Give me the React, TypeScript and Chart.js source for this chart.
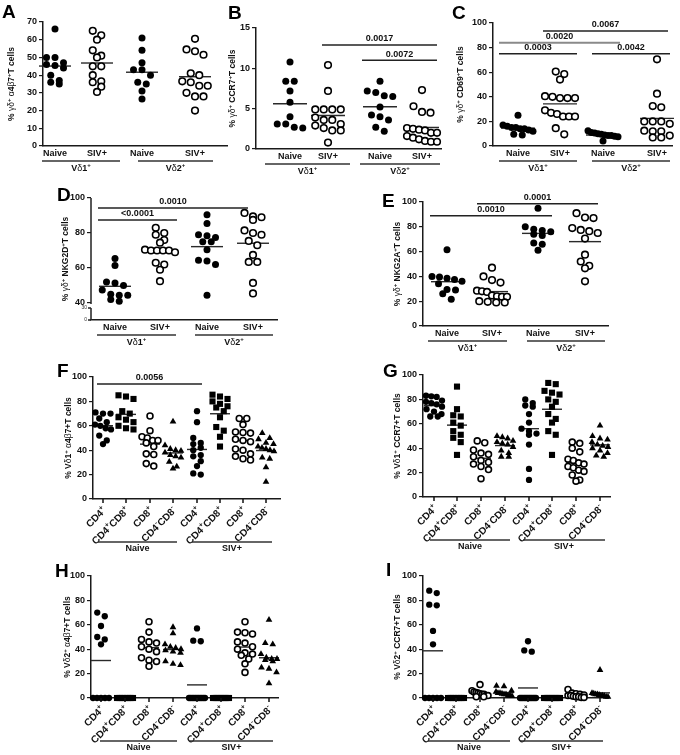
import React, { useEffect, useRef } from 'react';
import { Chart, registerables } from 'chart.js';
Chart.register(...registerables);

const FONT = '"Liberation Sans", Arial, Helvetica, sans-serif';

// ---------------- DATA ----------------
const catsTop = ['Naive', 'SIV+', 'Naive', 'SIV+'];
const groupsTop = ['Vδ1^+', 'Vδ2^+'];
const catsSub = ['CD4^+', 'CD4^+CD8^+', 'CD8^+', 'CD4^-CD8^-', 'CD4^+', 'CD4^+CD8^+', 'CD8^+', 'CD4^-CD8^-'];
const groupsSub = ['Naive', 'SIV+'];

const ticks70 = [0, 10, 20, 30, 40, 50, 60, 70];
const ticks15 = [0, 5, 10, 15];
const ticks100 = [0, 20, 40, 60, 80, 100];
const ticksD = [40, 60, 80, 100];

// A: % γδ+ α4β7+
const A_naive_d1 = [66, 50, 50, 47, 46, 45.5, 44, 40, 37, 36, 35];
const A_siv_d1 = [65, 62.5, 60, 54, 51, 50, 45, 45, 40, 36.5, 36, 33.5, 30.5];
const A_naive_d2 = [61, 54, 47, 43, 43, 40, 36, 35, 31, 26.5];
const A_siv_d2 = [60.5, 54.5, 53.5, 51.5, 41, 40, 36.5, 36, 34, 34, 30, 28, 28, 20];

// B: % γδ+ CCR7+
const B_naive_d1 = [10.8, 8.4, 8.4, 7.2, 5.8, 4.0, 3.1, 3.1, 2.6, 2.7];
const B_siv_d1 = [10.4, 7.2, 4.9, 4.9, 4.9, 4.9, 3.9, 3.6, 3.6, 3.1, 2.9, 2.6, 2.3, 2.3, 0.8];
const B_naive_d2 = [8.4, 7.2, 7.0, 6.6, 6.5, 5.2, 4.2, 4.0, 3.6, 2.7, 2.2];
const B_siv_d2 = [7.3, 5.3, 4.6, 4.5, 2.6, 2.5, 2.4, 2.3, 2.0, 2.0, 1.6, 1.4, 1.2, 1.0, 0.9, 0.9];
const B_sigLabels = ['0.0017', '0.0072'];
const B_sigY = [12.9, 11];

// C: % γδ+ CD69+
const C_naive_d1 = [25, 17, 16, 15, 15, 14, 14, 13, 12, 9.5, 9];
const C_siv_d1 = [60.5, 58.5, 54, 40.5, 40, 39, 39, 39, 29, 27, 26, 24, 24, 24, 14.5, 9.5];
const C_naive_d2 = [12.5, 11, 10.5, 10, 9.5, 9, 8.5, 8.5, 8, 7.5, 4];
const C_siv_d2 = [70.5, 42.5, 32.5, 31.5, 20, 20, 20, 18, 12.5, 12, 12, 8.5, 7, 7];
const C_sigLabels = ['0.0067', '0.0020', '0.0003', '0.0042'];
const C_sigY = [93.5, 84, 75, 75];

// D: % γδ+ NKG2D+
const D_naive_d1 = [65.5, 61.5, 52, 51.5, 50, 47.5, 45, 44.5, 44.5, 42, 41];
const D_siv_d1 = [83, 80, 79, 76, 74.5, 70.5, 70, 70, 70, 70, 69, 63, 62, 59, 52.5];
const D_naive_d2 = [90.5, 85.5, 79, 78.5, 77.5, 75, 75, 70.5, 64.5, 64, 62, 44.5];
const D_siv_d2 = [91.5, 89.5, 89, 87.5, 81.5, 80, 79, 75.5, 73, 67.5, 63.5, 63.5, 51.5, 45.5];
const D_sigLabels = ['0.0010', '<0.0001'];
const D_sigY = [94.3, 87.5];

// E: % γδ+ NKG2A+
const E_naive_d1 = [61.5, 40, 39.5, 38.5, 37.5, 36, 34, 29.5, 29, 26, 21.5];
const E_siv_d1 = [47, 40, 37, 35, 28.5, 28, 27.5, 24.5, 24, 23.5, 23.5, 20, 19.5, 19, 19];
const E_naive_d2 = [95, 80, 78, 77, 76, 74, 73, 67, 66, 61];
const E_siv_d2 = [91, 87.5, 87, 79, 77.5, 76.5, 75, 70.5, 57.5, 52, 48.5, 46.5, 36];
const E_sigLabels = ['0.0001', '0.0010'];
const E_sigY = [98.5, 89];

// F: % Vδ1+ α4β7+
const F_naive_cd4 = [71, 70, 70, 66, 63, 61, 60, 58, 57, 52, 48, 45];
const F_naive_dp = [85, 84, 82, 72, 70, 67, 65, 63, 60, 58, 57];
const F_naive_cd8 = [68, 56, 51, 50, 48, 48, 46, 43, 37, 36.5, 29, 27];
const F_naive_dn = [63.5, 44, 41, 40, 39.5, 38, 36, 35, 34, 30.5, 26.5, 25];
const F_siv_cd4 = [72, 63, 50, 46, 45, 42, 40, 36, 35, 31, 27, 21, 20];
const F_siv_dp = [85.5, 84, 82, 80, 78, 76, 75, 72, 67, 59, 56, 51, 43];
const F_siv_cd8 = [66, 66, 61, 55, 54.5, 54, 49, 48, 47, 41, 40, 37, 35, 33, 32];
const F_siv_dn = [54, 50, 49, 46, 45, 43, 42, 41, 40, 39, 34, 33, 26, 14];
const F_sigLabels = ['0.0056'];
const F_sigY = [94.3];

// G: % Vδ1+ CCR7+
const G_naive_cd4 = [83, 82.5, 82, 79, 78, 77, 76, 74, 72, 70, 68, 66, 66];
const G_naive_dp = [90.5, 72, 67, 66, 61, 58.5, 54, 51, 48.5, 45, 34.5];
const G_naive_cd8 = [46, 44.5, 38.5, 36, 35, 33, 30, 28.5, 27, 25, 22.5, 15];
const G_naive_dn = [50, 49, 48, 46, 45, 44, 43, 41, 38, 36, 33, 33];
const G_siv_cd4 = [80, 77, 75, 74, 68, 61, 56, 54, 52, 51, 43, 23, 14];
const G_siv_dp = [93.5, 92.5, 87, 85.5, 84, 80, 78, 74, 68, 64, 61, 54, 51, 34.5];
const G_siv_cd8 = [45, 44, 40, 37, 31, 30, 28, 27, 25, 24, 22, 21, 18, 14, 13];
const G_siv_dn = [58.5, 50, 48, 47, 45, 43, 42, 41, 40, 38, 36, 34, 33];

// H: % Vδ2+ α4β7+
const H_naive_cd4 = [70, 67, 59, 50, 48, 44, 0, 0, 0, 0, 0];
const H_naive_dp = [0, 0, 0, 0, 0, 0, 0, 0, 0, 0, 0];
const H_naive_cd8 = [62.5, 54, 48, 46, 45, 42, 40, 38, 33, 31, 30, 26];
const H_naive_dn = [58, 53, 44, 42, 41, 40, 39, 38, 37, 30, 28, 27];
const H_siv_cd4 = [57, 47, 46.5, 0, 0, 0, 0, 0, 0, 0, 0, 0, 0, 0];
const H_siv_dp = [0, 0, 0, 0, 0, 0, 0, 0, 0, 0, 0, 0];
const H_siv_cd8 = [62.5, 54, 53.5, 52.5, 46, 45, 42, 40, 37, 36, 35, 32, 28, 21];
const H_siv_dn = [64, 45, 44, 36, 33, 32, 32, 31, 30, 25, 24, 21, 12];

// I: % Vδ2+ CCR7+
const I_naive_cd4 = [88, 86, 76.5, 76, 55, 44, 0, 0, 0, 0, 0];
const I_naive_dp = [0, 0, 0, 0, 0, 0, 0, 0, 0, 0, 0];
const I_naive_cd8 = [11, 6, 5, 4.5, 4, 3.5, 3, 3, 2, 2, 1, 1];
const I_naive_dn = [10, 9.5, 6, 5, 4, 4, 3.5, 3, 3, 2, 2, 1.5];
const I_siv_cd4 = [46.5, 39, 38, 0, 0, 0, 0, 0, 0, 0, 0, 0, 0, 0, 0];
const I_siv_dp = [0, 0, 0, 0, 0, 0, 0, 0, 0, 0, 0, 0];
const I_siv_cd8 = [7, 4, 3.5, 3, 2.5, 2, 2, 1.5, 1, 1, 0.5, 0.5];
const I_siv_dn = [23, 4, 3.5, 3, 3, 2.5, 2, 2, 1.5, 1, 1];

// ---------------- LAYOUT / STYLE ----------------
type Panel = {
  letter: string;
  letterPos: [number, number];
  plot: [number, number, number, number];
  yMin: number; yMax: number; yTicks: number[];
  cats: number[];
  series: number[][];
  styles: string[];
  catLabels: string[];
  rotated: boolean;
  groups: string[];
  under: [number, number][];
  sigLabels?: string[]; sigY?: number[]; sigX?: [number, number][]; sigGray?: boolean[];
  title: string; titleX: number;
  meanW: number; swarmW: number; diam: number; mscale: number;
  yBreak?: boolean;
};

const topStyles = ['fc', 'oc', 'fc', 'oc'];
const subStyles = ['fc', 'sq', 'oc', 'tr', 'fc', 'sq', 'oc', 'tr'];

const PANELS: Panel[] = [
  {
    letter: 'A', letterPos: [2, 3], plot: [43, 22, 227, 146], yMin: 0, yMax: 70, yTicks: ticks70,
    cats: [55, 97, 142, 195], series: [A_naive_d1, A_siv_d1, A_naive_d2, A_siv_d2], styles: topStyles,
    catLabels: catsTop, rotated: false, groups: groupsTop, under: [[42, 120], [138, 213]],
    title: '% γδ^+ α4β7^+T cells', titleX: 12, meanW: 32, swarmW: 30, diam: 7.5, mscale: 1,
  },
  {
    letter: 'B', letterPos: [228, 4], plot: [256, 28, 441, 149], yMin: 0, yMax: 15, yTicks: ticks15,
    cats: [290, 328, 380, 422], series: [B_naive_d1, B_siv_d1, B_naive_d2, B_siv_d2], styles: topStyles,
    catLabels: catsTop, rotated: false, groups: groupsTop, under: [[265, 350], [360, 440]],
    sigLabels: B_sigLabels, sigY: B_sigY, sigX: [[322, 437], [362, 437]],
    title: '% γδ^+ CCR7^+T cells', titleX: 233, meanW: 34, swarmW: 30, diam: 7.5, mscale: 1,
  },
  {
    letter: 'C', letterPos: [452, 4], plot: [493, 23, 672, 146], yMin: 0, yMax: 100, yTicks: ticks100,
    cats: [518, 560, 603, 657], series: [C_naive_d1, C_siv_d1, C_naive_d2, C_siv_d2], styles: topStyles,
    catLabels: catsTop, rotated: false, groups: groupsTop, under: [[499, 577], [592, 670]],
    sigLabels: C_sigLabels, sigY: C_sigY, sigX: [[543, 668], [499, 620], [499, 577], [592, 670]],
    sigGray: [false, true, false, false],
    title: '% γδ^+ CD69^+T cells', titleX: 461, meanW: 34, swarmW: 30, diam: 7.5, mscale: 1,
  },
  {
    letter: 'D', letterPos: [57, 186], plot: [91, 198, 277, 320], yMin: 30.29, yMax: 100, yTicks: ticksD,
    cats: [115, 160, 207, 253], series: [D_naive_d1, D_siv_d1, D_naive_d2, D_siv_d2], styles: topStyles,
    catLabels: catsTop, rotated: false, groups: groupsTop, under: [[97, 176], [195, 273]],
    sigLabels: D_sigLabels, sigY: D_sigY, sigX: [[98, 248], [98, 177]],
    title: '% γδ^+ NKG2D^+T cells', titleX: 66, meanW: 32, swarmW: 30, diam: 7.5, mscale: 1, yBreak: true,
  },
  {
    letter: 'E', letterPos: [382, 192], plot: [423, 202, 608, 326], yMin: 0, yMax: 100, yTicks: ticks100,
    cats: [447, 492, 538, 585], series: [E_naive_d1, E_siv_d1, E_naive_d2, E_siv_d2], styles: topStyles,
    catLabels: catsTop, rotated: false, groups: groupsTop, under: [[428, 507], [527, 605]],
    sigLabels: E_sigLabels, sigY: E_sigY, sigX: [[477, 598], [430, 552]],
    title: '% γδ^+ NKG2A^+T cells', titleX: 398, meanW: 32, swarmW: 30, diam: 7.5, mscale: 1,
  },
  {
    letter: 'F', letterPos: [57, 362], plot: [93, 377, 280, 499], yMin: 0, yMax: 100, yTicks: ticks100,
    cats: [103, 126, 150, 173, 197, 220, 243, 266],
    series: [F_naive_cd4, F_naive_dp, F_naive_cd8, F_naive_dn, F_siv_cd4, F_siv_dp, F_siv_cd8, F_siv_dn],
    styles: subStyles, catLabels: catsSub, rotated: true, groups: groupsSub, under: [[98, 177], [192, 272]],
    sigLabels: F_sigLabels, sigY: F_sigY, sigX: [[97, 202]],
    title: '% Vδ1^+ α4β7+T cells', titleX: 69, meanW: 20, swarmW: 16, diam: 6.5, mscale: 0.9,
  },
  {
    letter: 'G', letterPos: [383, 362], plot: [423, 375, 610, 497], yMin: 0, yMax: 100, yTicks: ticks100,
    cats: [434, 457, 481, 505, 529, 552, 576, 600],
    series: [G_naive_cd4, G_naive_dp, G_naive_cd8, G_naive_dn, G_siv_cd4, G_siv_dp, G_siv_cd8, G_siv_dn],
    styles: subStyles, catLabels: catsSub, rotated: true, groups: groupsSub, under: [[430, 510], [523, 605]],
    title: '% Vδ1^+ CCR7+T cells', titleX: 398, meanW: 20, swarmW: 16, diam: 6.5, mscale: 0.9,
  },
  {
    letter: 'H', letterPos: [55, 562], plot: [91, 576, 278, 698], yMin: 0, yMax: 100, yTicks: ticks100,
    cats: [101, 125, 149, 173, 197, 221, 245, 269],
    series: [H_naive_cd4, H_naive_dp, H_naive_cd8, H_naive_dn, H_siv_cd4, H_siv_dp, H_siv_cd8, H_siv_dn],
    styles: subStyles, catLabels: catsSub, rotated: true, groups: groupsSub, under: [[100, 177], [190, 273]],
    title: '% Vδ2^+ α4β7+T cells', titleX: 68, meanW: 20, swarmW: 16, diam: 6.5, mscale: 0.9,
  },
  {
    letter: 'I', letterPos: [386, 561], plot: [423, 576, 607, 698], yMin: 0, yMax: 100, yTicks: ticks100,
    cats: [433, 456, 480, 504, 528, 552, 576, 600],
    series: [I_naive_cd4, I_naive_dp, I_naive_cd8, I_naive_dn, I_siv_cd4, I_siv_dp, I_siv_cd8, I_siv_dn],
    styles: subStyles, catLabels: catsSub, rotated: true, groups: groupsSub, under: [[428, 510], [520, 603]],
    title: '% Vδ2^+ CCR7+T cells', titleX: 398, meanW: 20, swarmW: 16, diam: 6.5, mscale: 0.9,
  },
];

const STYLE: Record<string, { ps: string; r: number; bg: string; bw: number }> = {
  fc: { ps: 'circle', r: 3.5, bg: '#000', bw: 0 },
  oc: { ps: 'circle', r: 3.3, bg: '#fff', bw: 1.6 },
  sq: { ps: 'rect', r: 4.8, bg: '#000', bw: 0 },
  tr: { ps: 'triangle', r: 4.3, bg: '#000', bw: 0 },
};

// ---------------- helpers ----------------
type Seg = { t: string; kind: 'b' | 'g' | 's' };
function parseRich(s: string): Seg[] {
  const out: Seg[] = [];
  for (let i = 0; i < s.length; i++) {
    let ch = s[i];
    let kind: Seg['kind'] = 'b';
    if (ch === '^') { i++; ch = s[i]; kind = 's'; }
    else if ('αβγδ'.includes(ch)) kind = 'g';
    const last = out[out.length - 1];
    if (last && last.kind === kind) last.t += ch; else out.push({ t: ch, kind });
  }
  return out;
}
function segFont(kind: string, size: number) {
  if (kind === 's') return `bold ${Math.round(size * 0.72)}px ${FONT}`;
  if (kind === 'g') return `${size}px ${FONT}`;
  return `bold ${size}px ${FONT}`;
}
function drawRich(ctx: CanvasRenderingContext2D, s: string, x: number, y: number, size: number,
  align: 'left' | 'center' | 'right' = 'center', angle = 0, color = '#111') {
  const segs = parseRich(s);
  ctx.save();
  ctx.translate(x, y);
  ctx.rotate(angle);
  let total = 0;
  const widths = segs.map((g) => { ctx.font = segFont(g.kind, size); const w = ctx.measureText(g.t).width; total += w; return w; });
  let cx = align === 'center' ? -total / 2 : align === 'right' ? -total : 0;
  ctx.fillStyle = color;
  ctx.textBaseline = 'middle';
  ctx.textAlign = 'left';
  segs.forEach((g, i) => {
    ctx.font = segFont(g.kind, size);
    ctx.fillText(g.t, cx, g.kind === 's' ? -size * 0.36 : 0);
    cx += widths[i];
  });
  ctx.restore();
}

// row-based swarm: points close in value share a row and are spread horizontally
function swarm(values: number[], pxPerUnit: number, diam: number, maxW: number): number[] {
  const idx = values.map((_, i) => i).sort((a, b) => values[b] - values[a]);
  const offs = new Array(values.length).fill(0);
  let i = 0;
  while (i < idx.length) {
    const start = values[idx[i]] * pxPerUnit;
    let j = i + 1;
    while (j < idx.length && start - values[idx[j]] * pxPerUnit < diam * 0.9) j++;
    const k = j - i;
    const sp = k > 1 ? Math.min(diam + 1, maxW / (k - 1)) : 0;
    for (let m = 0; m < k; m++) offs[idx[i + m]] = (m - (k - 1) / 2) * sp;
    i = j;
  }
  return offs;
}

function canvasBox(p: Panel) {
  const [l, t, r, b] = p.plot;
  const cl = Math.max(0, l - 50);
  const ct = Math.max(0, t - 34);
  return { l: cl, t: ct, w: r + 10 - cl, h: b + 58 - ct };
}

const Y_W = 30;
const X_H = 4;
const TITLE_SIZE = 8.5;

function makeDecor(p: Panel, cl: number, ct: number) {
  const [, t, , b] = p.plot;
  return {
    id: 'decor' + p.letter,
    beforeDatasetsDraw(chart: any) {
      const ctx: CanvasRenderingContext2D = chart.ctx;
      const xs = chart.scales.x, ys = chart.scales.y;
      ctx.save();
      ctx.strokeStyle = '#2a2a2a';
      ctx.lineWidth = 1.4;
      p.series.forEach((vals, i) => {
        const m = vals.reduce((a, v) => a + v, 0) / vals.length;
        const x = xs.getPixelForValue(p.cats[i]);
        const y = ys.getPixelForValue(m);
        ctx.beginPath();
        ctx.moveTo(x - p.meanW / 2, y);
        ctx.lineTo(x + p.meanW / 2, y);
        ctx.stroke();
      });
      ctx.restore();
    },
    afterDraw(chart: any) {
      const ctx: CanvasRenderingContext2D = chart.ctx;
      const xs = chart.scales.x, ys = chart.scales.y;
      ctx.save();
      // letter
      ctx.fillStyle = '#000';
      ctx.font = `bold 19px ${FONT}`;
      ctx.textBaseline = 'top';
      ctx.textAlign = 'left';
      ctx.fillText(p.letter, p.letterPos[0] - cl, p.letterPos[1] - ct);
      // y title
      drawRich(ctx, p.title, p.titleX - cl, (t + b) / 2 - ct, TITLE_SIZE, 'center', -Math.PI / 2);
      const bottom = b - ct;
      ctx.strokeStyle = '#111';
      ctx.lineWidth = 1.5;
      // category labels
      p.catLabels.forEach((lab, i) => {
        const x = xs.getPixelForValue(p.cats[i]);
        if (p.rotated) {
          ctx.beginPath();
          ctx.moveTo(x, bottom);
          ctx.lineTo(x, bottom + 4);
          ctx.stroke();
          drawRich(ctx, lab, x + 2, bottom + 10, 10, 'right', -Math.PI / 4);
        } else {
          drawRich(ctx, lab, x, bottom + 8, 9, 'center');
        }
      });
      // group underlines + labels
      const uY = p.rotated ? bottom + 43 : bottom + 15;
      const gY = p.rotated ? bottom + 50 : bottom + 23;
      p.under.forEach((u, i) => {
        ctx.strokeStyle = '#333';
        ctx.beginPath();
        ctx.moveTo(u[0] - cl, uY);
        ctx.lineTo(u[1] - cl, uY);
        ctx.stroke();
        drawRich(ctx, p.groups[i], (u[0] + u[1]) / 2 - cl, gY, 9, 'center');
      });
      // significance bars
      if (p.sigLabels && p.sigY && p.sigX) {
        p.sigLabels.forEach((lab, i) => {
          const y = ys.getPixelForValue(p.sigY![i]);
          const x1 = xs.getPixelForValue(p.sigX![i][0]);
          const x2 = xs.getPixelForValue(p.sigX![i][1]);
          const gray = p.sigGray && p.sigGray[i];
          ctx.strokeStyle = gray ? '#8a8a8a' : '#222';
          ctx.lineWidth = gray ? 2 : 1.5;
          ctx.beginPath();
          ctx.moveTo(x1, y);
          ctx.lineTo(x2, y);
          ctx.stroke();
          drawRich(ctx, lab, (x1 + x2) / 2, y - 6, 9, 'center');
        });
      }
      // broken y axis for D
      if (p.yBreak) {
        const ax = xs.left;
        const y100 = ys.getPixelForValue(100);
        const y40 = ys.getPixelForValue(40);
        ctx.strokeStyle = '#222';
        ctx.lineWidth = 1.5;
        ctx.beginPath();
        ctx.moveTo(ax, y100);
        ctx.lineTo(ax, y40 + 1);
        ctx.moveTo(ax, y40 + 5);
        ctx.lineTo(ax, bottom);
        ctx.moveTo(ax - 3, y40 + 5);
        ctx.lineTo(ax, y40 + 5);
        ctx.moveTo(ax - 3, bottom);
        ctx.lineTo(ax, bottom);
        ctx.stroke();
        ctx.fillStyle = '#333';
        ctx.font = `5px ${FONT}`;
        ctx.textAlign = 'right';
        ctx.textBaseline = 'middle';
        ctx.fillText('30', ax - 4, y40 + 5);
        ctx.fillText('0', ax - 4, bottom);
      }
      ctx.restore();
    },
  };
}

function buildChart(canvas: HTMLCanvasElement, p: Panel) {
  const box = canvasBox(p);
  const [l, t, r, b] = p.plot;
  const pxPerUnit = (b - t) / (p.yMax - p.yMin);
  const datasets = p.series.map((vals, i) => {
    const st = STYLE[p.styles[i]];
    const offs = swarm(vals, pxPerUnit, p.diam, p.swarmW);
    return {
      data: vals.map((v, j) => ({ x: p.cats[i] + offs[j], y: v })),
      pointStyle: st.ps,
      pointRadius: st.r * p.mscale,
      pointHoverRadius: st.r * p.mscale,
      pointBackgroundColor: st.bg,
      backgroundColor: st.bg,
      pointBorderColor: '#000',
      borderColor: '#000',
      pointBorderWidth: st.bw,
      showLine: false,
      clip: false as any,
    };
  });
  const yTicks = p.yTicks;
  return new Chart(canvas, {
    type: 'scatter',
    data: { datasets: datasets as any },
    options: {
      animation: false,
      responsive: false,
      maintainAspectRatio: false,
      devicePixelRatio: 1,
      events: [],
      layout: {
        padding: {
          left: l - box.l - Y_W,
          top: t - box.t,
          right: box.l + box.w - r,
          bottom: box.t + box.h - b - X_H,
        },
      },
      plugins: { legend: { display: false }, tooltip: { enabled: false } },
      scales: {
        x: {
          type: 'linear', min: l, max: r,
          ticks: { display: false },
          grid: { display: false },
          border: { display: true, color: '#1a1a1a', width: 1.5 },
          afterFit: (s: any) => { s.height = X_H; },
        },
        y: {
          type: 'linear', min: p.yMin, max: p.yMax,
          afterBuildTicks: (s: any) => { s.ticks = yTicks.map((v) => ({ value: v })); },
          ticks: { color: '#111', padding: 2, font: { family: FONT, size: 9, weight: 'bold' } },
          grid: { display: true, drawOnChartArea: false, drawTicks: true, tickLength: 4, color: '#1a1a1a', lineWidth: 1.2 },
          border: { display: !p.yBreak, color: '#1a1a1a', width: 1.5 },
          afterFit: (s: any) => { s.width = Y_W; },
        },
      },
    } as any,
    plugins: [makeDecor(p, box.l, box.t)],
  });
}

export default function App() {
  const refs = useRef<(HTMLCanvasElement | null)[]>([]);
  useEffect(() => {
    const charts = PANELS.map((p, i) => buildChart(refs.current[i] as HTMLCanvasElement, p));
    return () => charts.forEach((c) => c.destroy());
  }, []);
  return (
    <div style={{ position: 'absolute', left: 0, top: 0, width: 680, height: 755, overflow: 'hidden', background: '#fff' }}>
      {PANELS.map((p, i) => {
        const bx = canvasBox(p);
        return (
          <canvas
            key={p.letter}
            ref={(el) => { refs.current[i] = el; }}
            width={bx.w}
            height={bx.h}
            style={{ position: 'absolute', left: bx.l, top: bx.t, width: bx.w, height: bx.h }}
          />
        );
      })}
    </div>
  );
}
